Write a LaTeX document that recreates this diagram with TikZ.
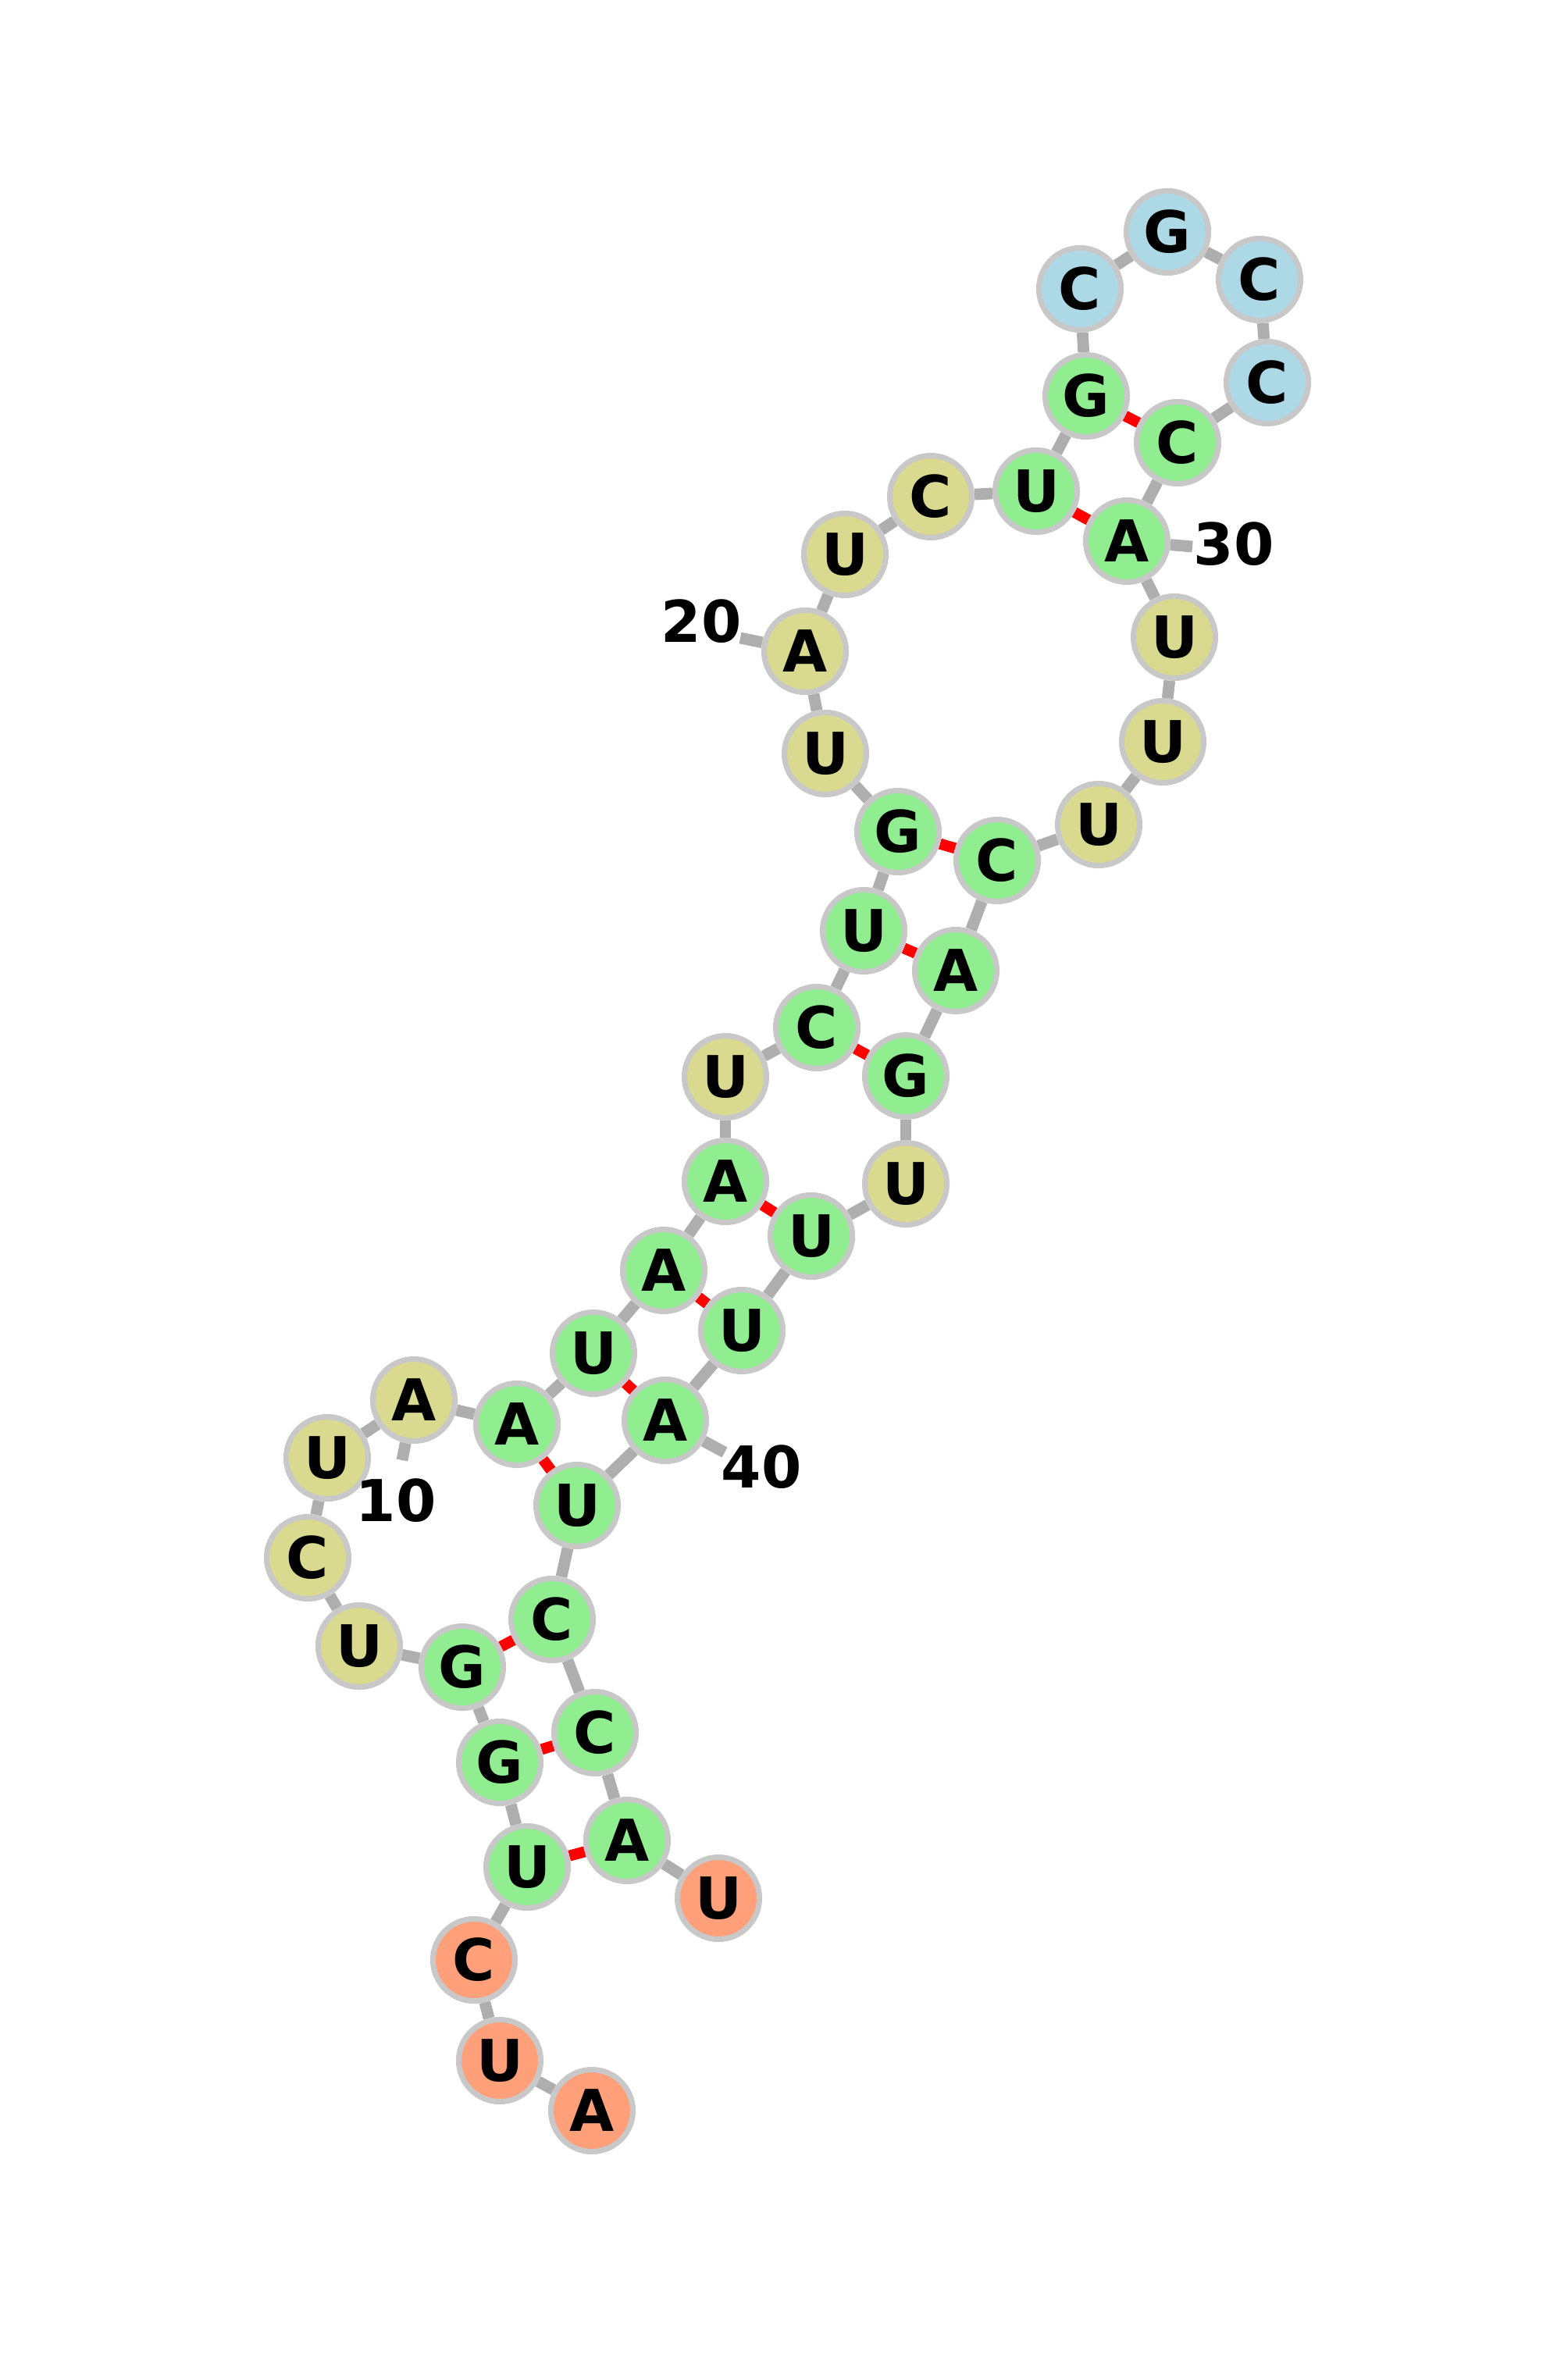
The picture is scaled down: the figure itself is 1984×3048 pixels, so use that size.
\documentclass[tikz,border=0pt]{standalone}
\usepackage{fontspec}
\setsansfont{DejaVu Sans}
\usetikzlibrary{backgrounds}
\definecolor{stemgreen}{RGB}{144,238,144}
\definecolor{loopkhaki}{RGB}{217,218,144}
\definecolor{hairblue}{RGB}{173,216,230}
\definecolor{endsalmon}{RGB}{255,160,122}
\definecolor{ringgray}{RGB}{200,200,200}
\definecolor{linkgray}{RGB}{174,174,174}
\tikzstyle{nt}    = [circle, draw=ringgray, line width=2pt, minimum size=1.05cm, inner sep=0pt, text=black, font=\fontsize{21}{21}\selectfont\sffamily\bfseries]
\tikzstyle{stem}  = [nt, fill=stemgreen]
\tikzstyle{loopn} = [nt, fill=loopkhaki]
\tikzstyle{hair}  = [nt, fill=hairblue]
\tikzstyle{tail}  = [nt, fill=endsalmon]
\tikzstyle{num}   = [inner sep=0pt, font=\fontsize{21}{21}\selectfont\sffamily\bfseries]
\tikzstyle{link}  = [line width=4.2pt, draw=linkgray]
\tikzstyle{pair}  = [line width=4pt, draw=red]

\begin{document}
\begin{tikzpicture}[x=0.01cm, y=-0.01cm]
		\useasboundingbox (0,0) rectangle (1984,3048);

		% 5' tail
		\node[tail]  (n1)  at (758,2703) {A};
		\node[tail]  (n2)  at (640,2639) {U};
		\node[tail]  (n3)  at (607,2510) {C};
		% first stem
		\node[stem]  (n4)  at (675,2391) {U};
		\node[stem]  (n5)  at (640,2257) {G};
		\node[stem]  (n6)  at (592,2135) {G};
		\node[loopn] (n7)  at (460,2108) {U};
		\node[loopn] (n8)  at (394,1995) {C};
		\node[loopn] (n9)  at (419,1867) {U};
		\node[loopn] (n10) at (530,1793) {A};
		\node[stem]  (n11) at (662,1824) {A};
		\node[stem]  (n12) at (760,1733) {U};
		\node[stem]  (n13) at (850,1627) {A};
		\node[stem]  (n14) at (929,1513) {A};
		\node[loopn] (n15) at (929,1379) {U};
		\node[stem]  (n16) at (1046,1316) {C};
		\node[stem]  (n17) at (1106,1192) {U};
		\node[stem]  (n18) at (1150,1065) {G};
		\node[loopn] (n19) at (1057,965) {U};
		\node[loopn] (n20) at (1031,834) {A};
		\node[loopn] (n21) at (1082,710) {U};
		\node[loopn] (n22) at (1192,636) {C};
		\node[stem]  (n23) at (1327,629) {U};
		\node[stem]  (n24) at (1391,507) {G};
		% hairpin
		\node[hair]  (n25) at (1383,370) {C};
		\node[hair]  (n26) at (1495,297) {G};
		\node[hair]  (n27) at (1613,358) {C};
		\node[hair]  (n28) at (1623,490) {C};
		\node[stem]  (n29) at (1508,567) {C};
		\node[stem]  (n30) at (1443,693) {A};
		\node[loopn] (n31) at (1504,816) {U};
		\node[loopn] (n32) at (1489,950) {U};
		\node[loopn] (n33) at (1407,1056) {U};
		\node[stem]  (n34) at (1277,1102) {C};
		\node[stem]  (n35) at (1224,1243) {A};
		\node[stem]  (n36) at (1160,1378) {G};
		\node[loopn] (n37) at (1160,1516) {U};
		\node[stem]  (n38) at (1039,1583) {U};
		\node[stem]  (n39) at (950,1704) {U};
		\node[stem]  (n40) at (852,1819) {A};
		\node[stem]  (n41) at (739,1928) {U};
		\node[stem]  (n42) at (707,2074) {C};
		\node[stem]  (n43) at (762,2219) {C};
		\node[stem]  (n44) at (803,2357) {A};
		% 3' tail
		\node[tail]  (n45) at (920,2431) {U};

		% numbering
		\coordinate (t10) at (515,1870);
		\coordinate (t20) at (948,817);
		\coordinate (t30) at (1527,700);
		\coordinate (t40) at (928,1860);
		\node[num] (l10) at (507,1922) {10};
		\node[num] (l20) at (898,796) {20};
		\node[num] (l30) at (1580,697) {30};
		\node[num] (l40) at (975,1879) {40};

		\begin{scope}[on background layer]
			\foreach \i [count=\j from 2] in {1,...,44}
				\draw[link] (n\i) -- (n\j);
			\draw[link] (n10) -- (t10);
			\draw[link] (n20) -- (t20);
			\draw[link] (n30) -- (t30);
			\draw[link] (n40) -- (t40);

			\draw[pair] (n4) -- (n44);
			\draw[pair] (n5) -- (n43);
			\draw[pair] (n6) -- (n42);
			\draw[pair] (n11) -- (n41);
			\draw[pair] (n12) -- (n40);
			\draw[pair] (n13) -- (n39);
			\draw[pair] (n14) -- (n38);
			\draw[pair] (n16) -- (n36);
			\draw[pair] (n17) -- (n35);
			\draw[pair] (n18) -- (n34);
			\draw[pair] (n23) -- (n30);
			\draw[pair] (n24) -- (n29);
		\end{scope}
	\end{tikzpicture}
\end{document}
